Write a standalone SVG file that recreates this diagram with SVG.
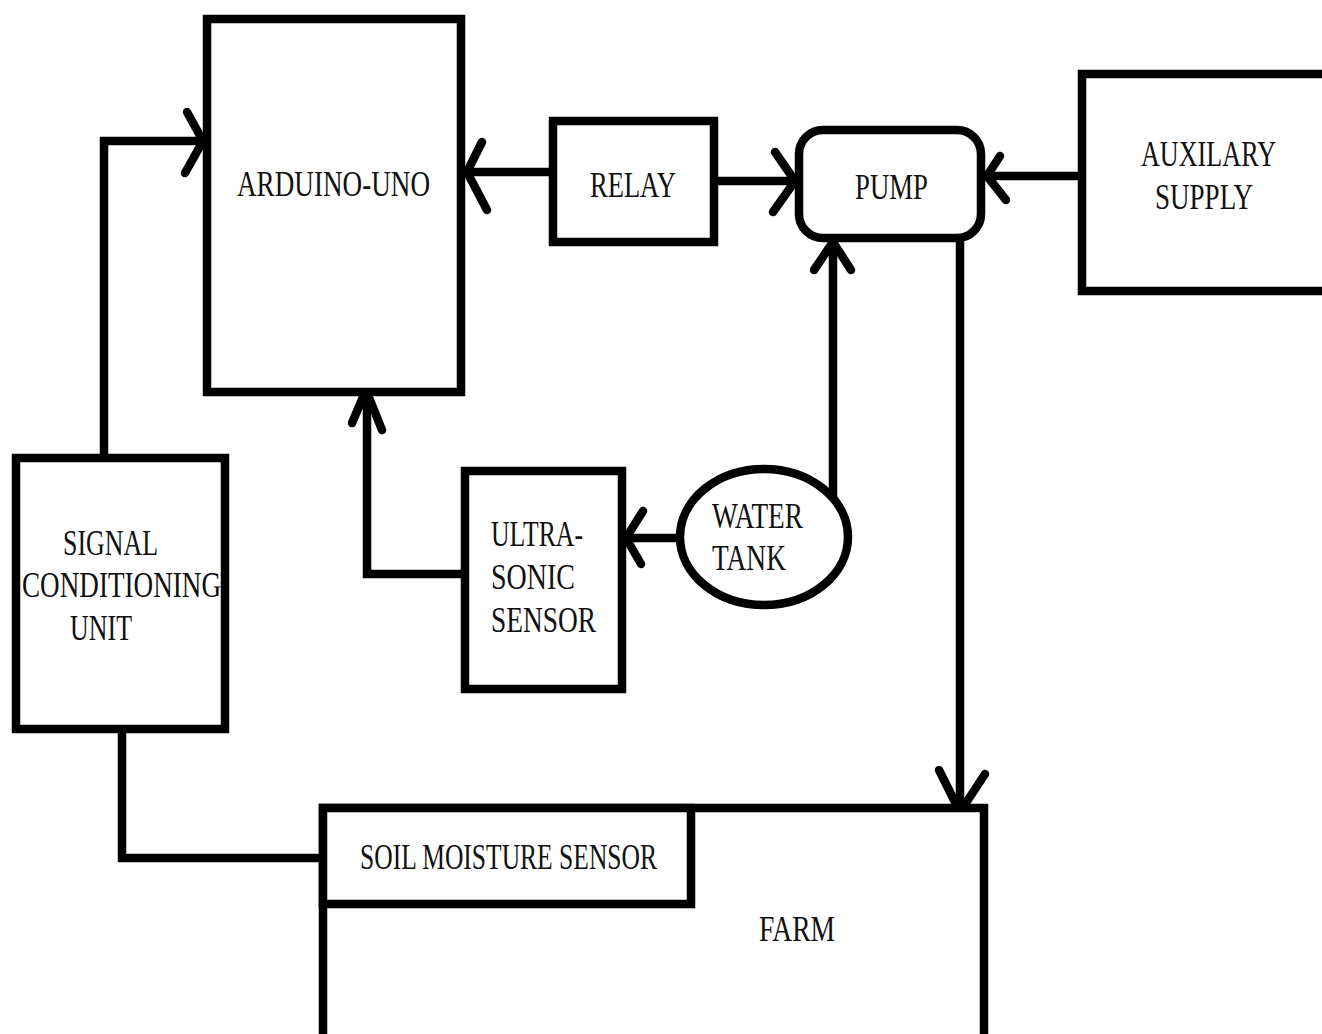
<svg xmlns="http://www.w3.org/2000/svg" width="1322" height="1034" viewBox="0 0 1322 1034">
<style>
.box{fill:#fff;stroke:#000;stroke-width:8.5}
.ln{fill:none;stroke:#000;stroke-width:8.5;stroke-linecap:round;stroke-linejoin:miter}
.ah{fill:none;stroke:#000;stroke-width:8.5;stroke-linecap:round;stroke-linejoin:round}
</style>
<rect width="1322" height="1034" fill="#fff"/>
<g id="connectors">
<polyline class="ln" points="104,456 104,141 203,141"/>
<polyline class="ah" points="187,112 203,141 185,173"/>
<line class="ln" x1="549" y1="172" x2="467" y2="172"/>
<polyline class="ah" points="482,142 467,172 487,210"/>
<line class="ln" x1="718" y1="181" x2="795" y2="181"/>
<polyline class="ah" points="775,152 795,181 773,212"/>
<line class="ln" x1="1078" y1="176" x2="987" y2="176"/>
<polyline class="ah" points="1000,156 987,176 1006,200"/>
<line class="ln" x1="833" y1="497" x2="833" y2="242"/>
<polyline class="ah" points="814,270 833,242 851,270"/>
<line class="ln" x1="960" y1="242" x2="960" y2="812"/>
<polyline class="ah" points="939,770 960,812 985,774"/>
<line class="ln" x1="677" y1="538" x2="626" y2="538"/>
<polyline class="ah" points="643,511 626,538 641,564"/>
<polyline class="ln" points="463,574 367,574 367,393"/>
<polyline class="ah" points="352,423 366,390 382,430"/>
<polyline class="ln" points="122,733 122,858 321,858"/>
</g>
<g font-family="Liberation Serif, Times New Roman, DejaVu Serif, serif" font-size="35" fill="#111">
<g id="arduino"><rect class="box" x="207" y="19" width="254" height="373"/>
<text x="237" y="196" textLength="193" lengthAdjust="spacingAndGlyphs">ARDUINO-UNO</text></g>
<g id="relay"><rect class="box" x="553" y="121" width="161" height="121"/>
<text x="590" y="197" textLength="86" lengthAdjust="spacingAndGlyphs">RELAY</text></g>
<g id="pump"><rect class="box" x="799" y="130" width="182" height="108" rx="24"/>
<text x="855" y="199" textLength="73" lengthAdjust="spacingAndGlyphs">PUMP</text></g>
<g id="auxiliary"><rect class="box" x="1082" y="74" width="250" height="217"/>
<text x="1141" y="166" textLength="135" lengthAdjust="spacingAndGlyphs">AUXILARY</text>
<text x="1155" y="209" textLength="98" lengthAdjust="spacingAndGlyphs">SUPPLY</text></g>
<g id="signal"><rect class="box" x="16" y="458" width="209" height="271"/>
<text x="63" y="555" textLength="95" lengthAdjust="spacingAndGlyphs">SIGNAL</text>
<text x="22" y="597" textLength="199" lengthAdjust="spacingAndGlyphs">CONDITIONING</text>
<text x="70" y="640" textLength="62" lengthAdjust="spacingAndGlyphs">UNIT</text></g>
<g id="ultrasonic"><rect class="box" x="465" y="471" width="157" height="218"/>
<text x="491" y="546" textLength="92" lengthAdjust="spacingAndGlyphs">ULTRA-</text>
<text x="491" y="589" textLength="84" lengthAdjust="spacingAndGlyphs">SONIC</text>
<text x="491" y="632" textLength="105" lengthAdjust="spacingAndGlyphs">SENSOR</text></g>
<g id="watertank"><ellipse class="box" cx="764" cy="537" rx="84" ry="68"/>
<text x="712" y="528" textLength="91" lengthAdjust="spacingAndGlyphs">WATER</text>
<text x="712" y="570" textLength="74" lengthAdjust="spacingAndGlyphs">TANK</text></g>
<g id="farm"><rect class="box" x="323" y="808" width="661" height="240"/>
<text x="759" y="941" textLength="76" lengthAdjust="spacingAndGlyphs">FARM</text></g>
<g id="soil"><rect class="box" x="323" y="808" width="368" height="96"/>
<text x="360" y="869" textLength="297" lengthAdjust="spacingAndGlyphs">SOIL MOISTURE SENSOR</text></g>
</g>
</svg>
